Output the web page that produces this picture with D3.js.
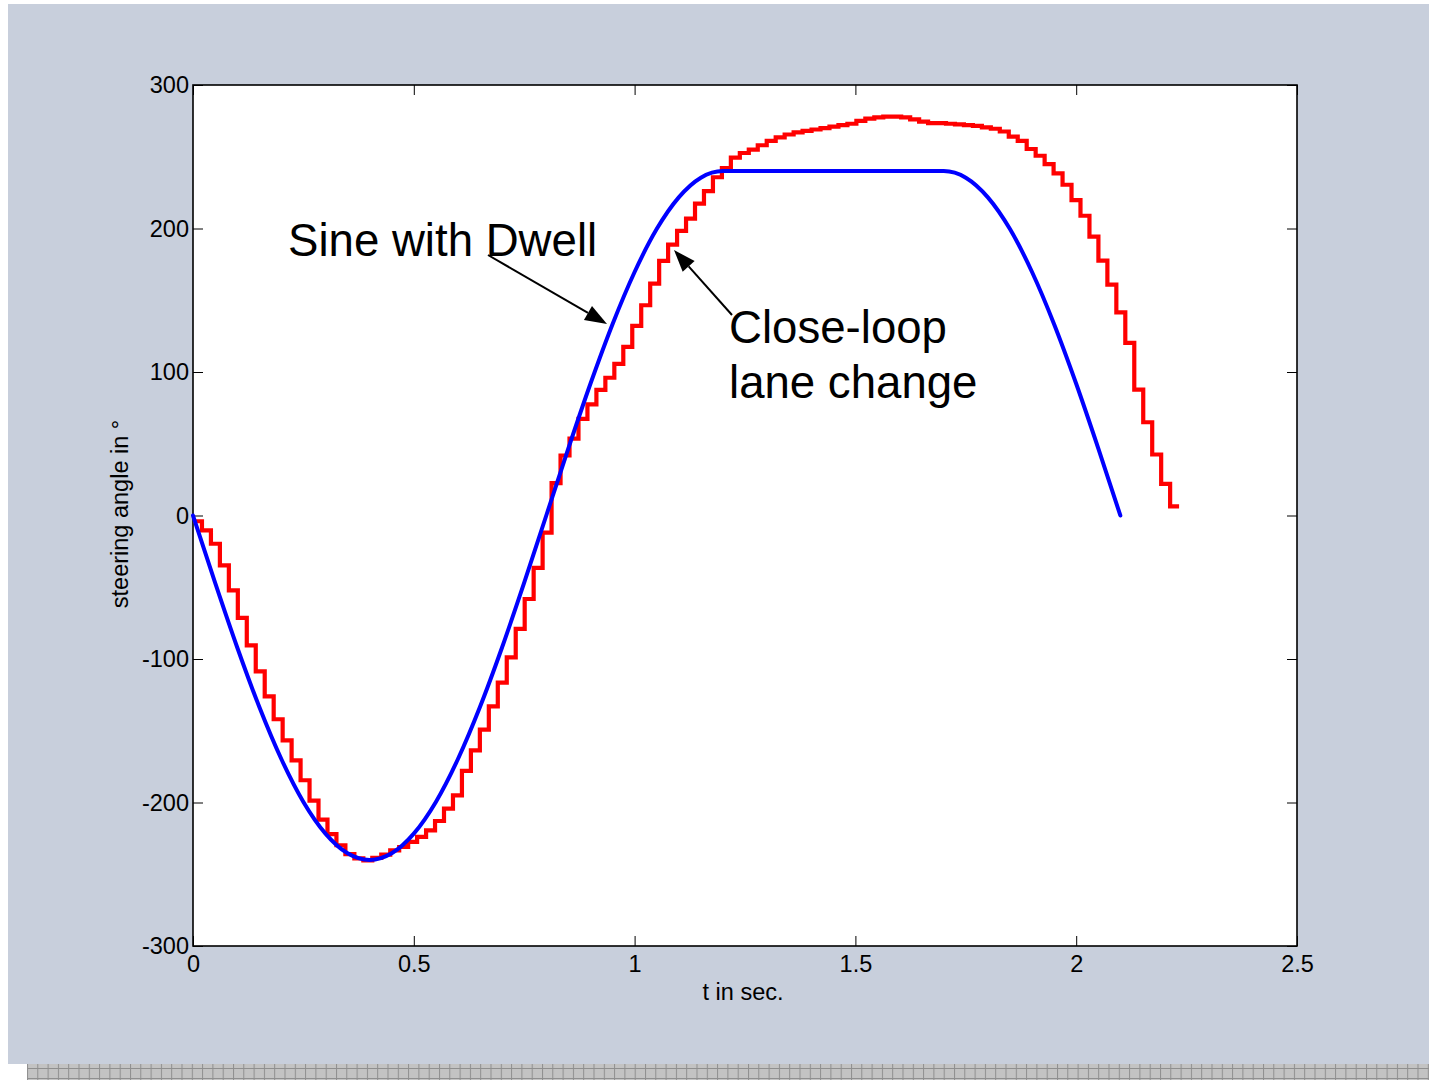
<!DOCTYPE html>
<html>
<head>
<meta charset="utf-8">
<script src="https://cdn.jsdelivr.net/npm/d3@7"></script>
<style>
  html, body { margin: 0; padding: 0; background: #ffffff; }
  svg { display: block; }
  text { font-family: "Liberation Sans", Arial, sans-serif; fill: #000; }
</style>
</head>
<body>
<svg id="chart" width="1429" height="1080"></svg>
<script>
// ---------------- data ----------------
const xTicks = [0, 0.5, 1, 1.5, 2, 2.5];
const yTicks = [-300, -200, -100, 0, 100, 200, 300];
const xTickLabels = ["0", "0.5", "1", "1.5", "2", "2.5"];
const yTickLabels = ["-300", "-200", "-100", "0", "100", "200", "300"];

// Sine with Dwell (blue)
const sineTimes = [0, 0.05, 0.1, 0.15, 0.2, 0.25, 0.3, 0.35, 0.4, 0.45, 0.5, 0.55, 0.6, 0.65, 0.7, 0.75,
  0.8, 0.85, 0.9, 0.95, 1.0, 1.05, 1.1, 1.15, 1.2, 1.45, 1.7, 1.75, 1.8, 1.85, 1.9, 1.95, 2.0, 2.05, 2.1];
const sineValues = [0, -46.8, -91.8, -133.3, -169.7, -199.6, -221.7, -235.4, -240, -235.4, -221.7, -199.6, -169.7, -133.3, -91.8, -46.8,
  0, 46.8, 91.8, 133.3, 169.7, 199.6, 221.7, 235.4, 240, 240, 240, 235.4, 221.7, 199.6, 169.7, 133.3, 91.8, 46.8, 0];

// Close-loop lane change (red) – sampled steps
const laneStep = 0.0203;
const laneValues = [
  -4, -10.4, -19.7, -34.8, -52.2, -71.3, -90.5, -108.6, -126, -142,
  -156.7, -170.6, -184.5, -198.7, -211.9, -222, -229.8, -236, -239, -240.3,
  -238.6, -236.3, -233.3, -231, -227.5, -224, -219.4, -212.9, -204.3, -195,
  -178, -163.7, -149.2, -133, -116.4, -98.8, -79, -58.2, -36.5, -11.9,
  22.6, 41.8, 53.6, 67.3, 77.5, 87.5, 96, 105.6, 117.5, 132.2,
  146.5, 161.6, 177.5, 188.7, 198.3, 206.9, 217.4, 226, 235.7, 242.1,
  249.4, 252.6, 255, 258, 261, 263.5, 265.5, 267, 268, 269,
  270, 271, 272, 273, 275, 276.5, 277.5, 278, 278, 277.5,
  276, 274.5, 273.5, 273.5, 273, 272.5, 272, 271.5, 270.5, 269.5,
  267.6, 264, 261.1, 255.4, 250.7, 244.9, 238.4, 230.5, 219.8, 208.9,
  194.3, 177.6, 160.9, 141.6, 120.3, 87.7, 65, 42.5, 22.1, 6.3
];

const xLabel = "t in sec.";
const yLabel = "steering angle in °";
const annSine = "Sine with Dwell";
const annLane = ["Close-loop", "lane change"];

// ---------------- layout ----------------
const svg = d3.select("#chart");
const W = 1429, H = 1080;
const plot = { left: 193, right: 1297, top: 85, bottom: 946 };

// background
svg.append("rect").attr("x", 0).attr("y", 0).attr("width", W).attr("height", H).attr("fill", "#ffffff");
svg.append("rect").attr("x", 8).attr("y", 4).attr("width", W - 8).attr("height", 1060).attr("fill", "#c8cfdc");

// bottom patterned strip
const defs = svg.append("defs");
const pat = defs.append("pattern").attr("id", "grid").attr("patternUnits", "userSpaceOnUse")
  .attr("x", 27).attr("y", 1064).attr("width", 10.3).attr("height", 10);
pat.append("rect").attr("width", 10.3).attr("height", 10).attr("fill", "#c3c3c3");
pat.append("rect").attr("x", 0).attr("y", 0).attr("width", 1).attr("height", 10).attr("fill", "#8f8f8f");
pat.append("rect").attr("x", 0).attr("y", 4).attr("width", 10.3).attr("height", 1).attr("fill", "#8f8f8f");
svg.append("rect").attr("x", 27).attr("y", 1064).attr("width", W - 27).attr("height", 16).attr("fill", "url(#grid)");

// plot area
svg.append("rect").attr("x", plot.left).attr("y", plot.top)
  .attr("width", plot.right - plot.left).attr("height", plot.bottom - plot.top)
  .attr("fill", "#ffffff");

const x = d3.scaleLinear().domain([0, 2.5]).range([plot.left, plot.right]);
const y = d3.scaleLinear().domain([-300, 300]).range([plot.bottom, plot.top]);

// axes
const fs = 23.5;
const axB = svg.append("g").attr("transform", `translate(0,${plot.bottom})`)
  .call(d3.axisBottom(x).tickValues(xTicks).tickFormat((d, i) => xTickLabels[i]).tickSize(-10).tickPadding(9));
const axL = svg.append("g").attr("transform", `translate(${plot.left},0)`)
  .call(d3.axisLeft(y).tickValues(yTicks).tickFormat((d, i) => yTickLabels[i]).tickSize(-10).tickPadding(4));
const axT = svg.append("g").attr("transform", `translate(0,${plot.top})`)
  .call(d3.axisTop(x).tickValues(xTicks).tickFormat("").tickSize(-10));
const axR = svg.append("g").attr("transform", `translate(${plot.right},0)`)
  .call(d3.axisRight(y).tickValues(yTicks).tickFormat("").tickSize(-10));
[axB, axL, axT, axR].forEach(a => {
  a.select(".domain").remove();
  a.selectAll(".tick line").attr("stroke", "#000").attr("stroke-width", 1);
  a.selectAll("text").attr("font-size", fs).attr("font-family", '"Liberation Sans", Arial, sans-serif').attr("fill", "#000");
});

// frame
svg.append("rect").attr("x", plot.left).attr("y", plot.top)
  .attr("width", plot.right - plot.left).attr("height", plot.bottom - plot.top)
  .attr("fill", "none").attr("stroke", "#000").attr("stroke-width", 1.6);

// axis labels
svg.append("text").attr("x", 743).attr("y", 1000).attr("text-anchor", "middle")
  .attr("font-size", 23.5).text(xLabel);
svg.append("text").attr("transform", "translate(128,514) rotate(-90)").attr("text-anchor", "middle")
  .attr("font-size", 23.5).text(yLabel);

// series
const sineData = sineTimes.map((t, i) => [t, sineValues[i]]);
const laneData = laneValues.map((v, i) => [i * laneStep, v]);
laneData.push([laneValues.length * laneStep, laneValues[laneValues.length - 1]]);

const lineSine = d3.line().x(d => x(d[0])).y(d => y(d[1])).curve(d3.curveMonotoneX);
const lineLane = d3.line().x(d => x(d[0])).y(d => y(d[1])).curve(d3.curveStepAfter);

svg.append("path").datum(laneData).attr("d", lineLane)
  .attr("fill", "none").attr("stroke", "#ff0000").attr("stroke-width", 4.2)
  .attr("stroke-linejoin", "miter").attr("stroke-linecap", "butt");
svg.append("path").datum(sineData).attr("d", lineSine)
  .attr("fill", "none").attr("stroke", "#0000ff").attr("stroke-width", 4)
  .attr("stroke-linecap", "round");

// annotations
svg.append("text").attr("x", 288).attr("y", 256).attr("font-size", 45.6).text(annSine);
svg.append("text").attr("x", 729).attr("y", 343).attr("font-size", 45.6).text(annLane[0]);
svg.append("text").attr("x", 729).attr("y", 398).attr("font-size", 45.6).text(annLane[1]);

function arrow(x1, y1, x2, y2) {
  const ang = Math.atan2(y2 - y1, x2 - x1);
  const len = 22, half = 8;
  const bx = x2 - len * Math.cos(ang), by = y2 - len * Math.sin(ang);
  svg.append("line").attr("x1", x1).attr("y1", y1).attr("x2", bx).attr("y2", by)
    .attr("stroke", "#000").attr("stroke-width", 2);
  const px = -Math.sin(ang) * half, py = Math.cos(ang) * half;
  svg.append("path").attr("d", `M${x2},${y2}L${bx + px},${by + py}L${bx - px},${by - py}Z`).attr("fill", "#000");
}
arrow(488, 255, 607, 324);
arrow(732, 315, 674, 250);
</script>
</body>
</html>
